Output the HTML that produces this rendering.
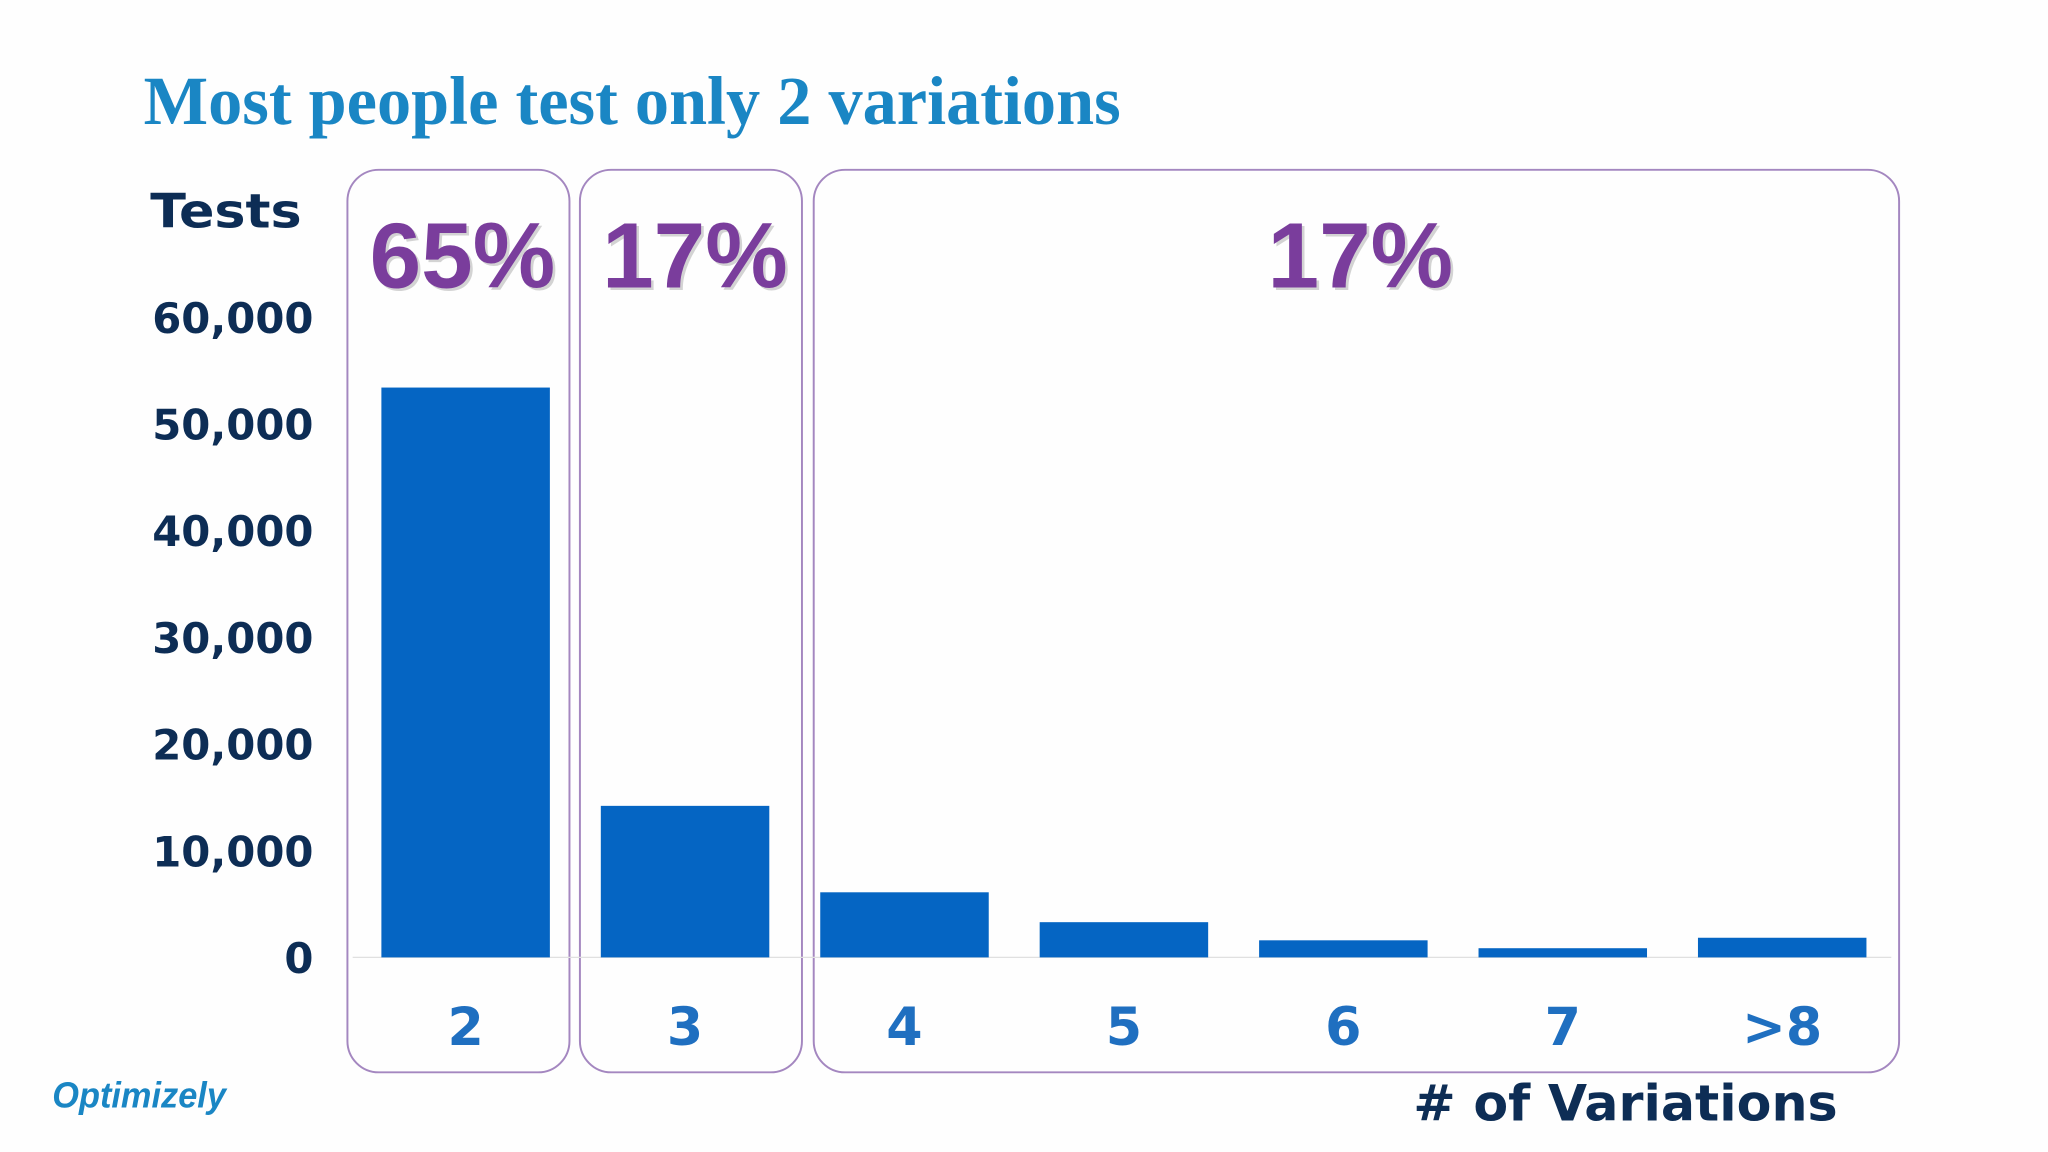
<!DOCTYPE html>
<html><head><meta charset="utf-8"><style>
html,body{margin:0;padding:0;background:#fff;}
svg{display:block;}
</style></head><body>
<svg id="chart" width="2048" height="1152" viewBox="0 0 1568 882" xmlns="http://www.w3.org/2000/svg">
<rect width="1568" height="882" fill="#fefefe"/>
<text x="110" y="95" font-family="Liberation Serif, serif" font-weight="bold" font-size="53" fill="#1a86c4" textLength="748" lengthAdjust="spacingAndGlyphs">Most people test only 2 variations</text>
<text x="115" y="174" font-family="DejaVu Sans, sans-serif" font-weight="bold" font-size="36" fill="#0d2d55" textLength="116" lengthAdjust="spacingAndGlyphs">Tests</text>
<g id="boxes"></g>
<g id="yticks"></g>
<line x1="270" y1="733" x2="1448" y2="733" stroke="#e0e0e0" stroke-width="1"/>
<g id="bars"></g>
<g id="xlabels"></g>
<g id="pcts"></g>
<text x="1082" y="858" font-family="DejaVu Sans, sans-serif" font-weight="bold" font-size="38" fill="#0d2d55" textLength="325" lengthAdjust="spacingAndGlyphs"># of Variations</text>
<text x="40" y="848" font-family="Liberation Sans, sans-serif" font-weight="bold" font-style="italic" font-size="28" fill="#1a86c4" textLength="133" lengthAdjust="spacingAndGlyphs">Optimizely</text>
</svg>
<script>
const categories = ["2","3","4","5","6","7",">8"];
const values = [53400, 14200, 6100, 3300, 1600, 860, 1840];
const yTicks = [0,10000,20000,30000,40000,50000,60000];
const yTickLabels = ["0","10,000","20,000","30,000","40,000","50,000","60,000"];
const groupLabels = ["65%","17%","17%"];
const groupStart = [0,1,2];
const groupEnd = [0,1,6];

const NS="http://www.w3.org/2000/svg";
const y0=733, pxPer=81.7/10000;
function yScale(v){return y0 - v*pxPer;}
function xCenter(i){return 356.5 + i*168;}
const bw=129;
const padL=[26,16,5], padR=[15,25,25];
function mk(tag,attrs,parent){const e=document.createElementNS(NS,tag);for(const k in attrs)e.setAttribute(k,attrs[k]);document.getElementById(parent).appendChild(e);return e;}

yTicks.forEach((t,i)=>{
  const e=mk('text',{x:240,y:yScale(t)+12,'text-anchor':'end','font-family':'DejaVu Sans, sans-serif','font-weight':'bold','font-size':32,fill:'#0d2d55'},'yticks');
  e.textContent=yTickLabels[i];
  
  
});
values.forEach((v,i)=>{
  const r=mk('rect',{x:xCenter(i)-bw/2,y:yScale(v),width:bw,height:y0-yScale(v),fill:'#0565c3'},'bars');
  
  
  const t=mk('text',{x:xCenter(i),y:800,'text-anchor':'middle','font-family':'DejaVu Sans, sans-serif','font-weight':'bold','font-size':40,fill:'#1f6fc0'},'xlabels');
  t.textContent=categories[i];
  
  
});
groupLabels.forEach((g,i)=>{
  const x1=xCenter(groupStart[i])-bw/2-padL[i];
  const x2=xCenter(groupEnd[i])+bw/2+padR[i];
  const b=mk('rect',{x:x1,y:130,width:x2-x1,height:691,rx:24,fill:'none',stroke:'#a487c0','stroke-width':1.5},'boxes');
  
  
  const cx=(x1+x2)/2+3;
  const s=mk('text',{x:cx+2,y:222,'text-anchor':'middle','font-family':'Liberation Sans, sans-serif','font-weight':'bold','font-size':71,fill:'#b8b8b8',opacity:0.6},'pcts');
  s.textContent=g;
  
  
  const p=mk('text',{x:cx,y:220,'text-anchor':'middle','font-family':'Liberation Sans, sans-serif','font-weight':'bold','font-size':71,fill:'#7a3d9c'},'pcts');
  p.textContent=g;
  
  
});
</script>
</body></html>
